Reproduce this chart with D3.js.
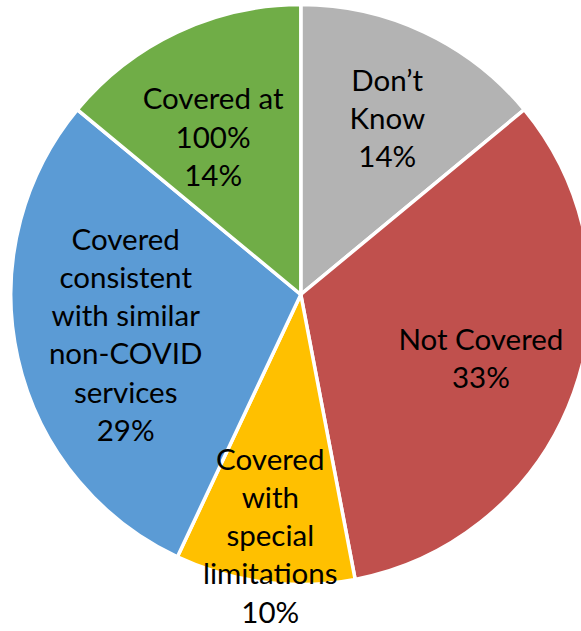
<!DOCTYPE html>
<html>
<head>
<meta charset="utf-8">
<script src="https://cdn.jsdelivr.net/npm/d3@7"></script>
<style>
  html, body { margin: 0; padding: 0; background: #ffffff; }
  svg { display: block; }
</style>
</head>
<body>
<svg id="chart" width="581" height="631"></svg>
<script>
// Coverage categories, clockwise from 12 o'clock
const categories = [
  "Don’t Know",
  "Not Covered",
  "Covered with special limitations",
  "Covered consistent with similar non-COVID services",
  "Covered at 100%"
];
// Share of responses (%)
const values = [14, 33, 10, 29, 14];
// Category text as it wraps inside each slice
const labelLines = [
  ["Don’t", "Know"],
  ["Not Covered"],
  ["Covered", "with", "special", "limitations"],
  ["Covered", "consistent", "with similar", "non-COVID", "services"],
  ["Covered at", "100%"]
];
const colors = ["#B3B3B3", "#C0504D", "#FFC000", "#5B9BD5", "#70AD47"];

const width = 581, height = 631;
const cx = 300.8, cy = 294.5, radius = 290;
const fontSize = 29.5, lineHeight = 38.3;

// label placement along each slice bisector: fraction of radius, angular nudge (deg)
const labelRadius = [0.675, 0.66, 0.84, 0.62, 0.62];
const labelNudge = [1, 0, 0, -0.5, -4];

const data = categories.map((c, i) => ({ category: c, value: values[i], lines: labelLines[i], color: colors[i] }));

const svg = d3.select("#chart");
const g = svg.append("g").attr("transform", `translate(${cx},${cy})`);

const pie = d3.pie().value(d => d.value).sort(null);
const arc = d3.arc().innerRadius(0).outerRadius(radius);
const arcs = pie(data);

g.selectAll("path.slice")
  .data(arcs)
  .join("path")
  .attr("class", "slice")
  .attr("d", arc)
  .attr("fill", d => d.data.color)
  .attr("stroke", "#ffffff")
  .attr("stroke-width", 3.5)
  .attr("stroke-linejoin", "miter");

const pct = v => `${v}%`;

const labels = g.selectAll("text.label")
  .data(arcs)
  .join("text")
  .attr("class", "label")
  .attr("text-anchor", "middle")
  .attr("font-family", "Lato, 'Open Sans', sans-serif")
  .attr("font-size", fontSize)
  .attr("fill", "#000000");

labels.each(function(d, i) {
  const mid = (d.startAngle + d.endAngle) / 2 + labelNudge[i] * Math.PI / 180;
  const r = radius * labelRadius[i];
  const x = r * Math.sin(mid);
  const y = -r * Math.cos(mid);
  const lines = d.data.lines.concat([pct(d.data.value)]);
  const n = lines.length;
  const firstBaseline = y + 10 - (n - 1) / 2 * lineHeight;
  d3.select(this).selectAll("tspan")
    .data(lines)
    .join("tspan")
    .attr("x", x)
    .attr("y", (t, k) => firstBaseline + k * lineHeight)
    .text(t => t);
});
</script>
</body>
</html>
